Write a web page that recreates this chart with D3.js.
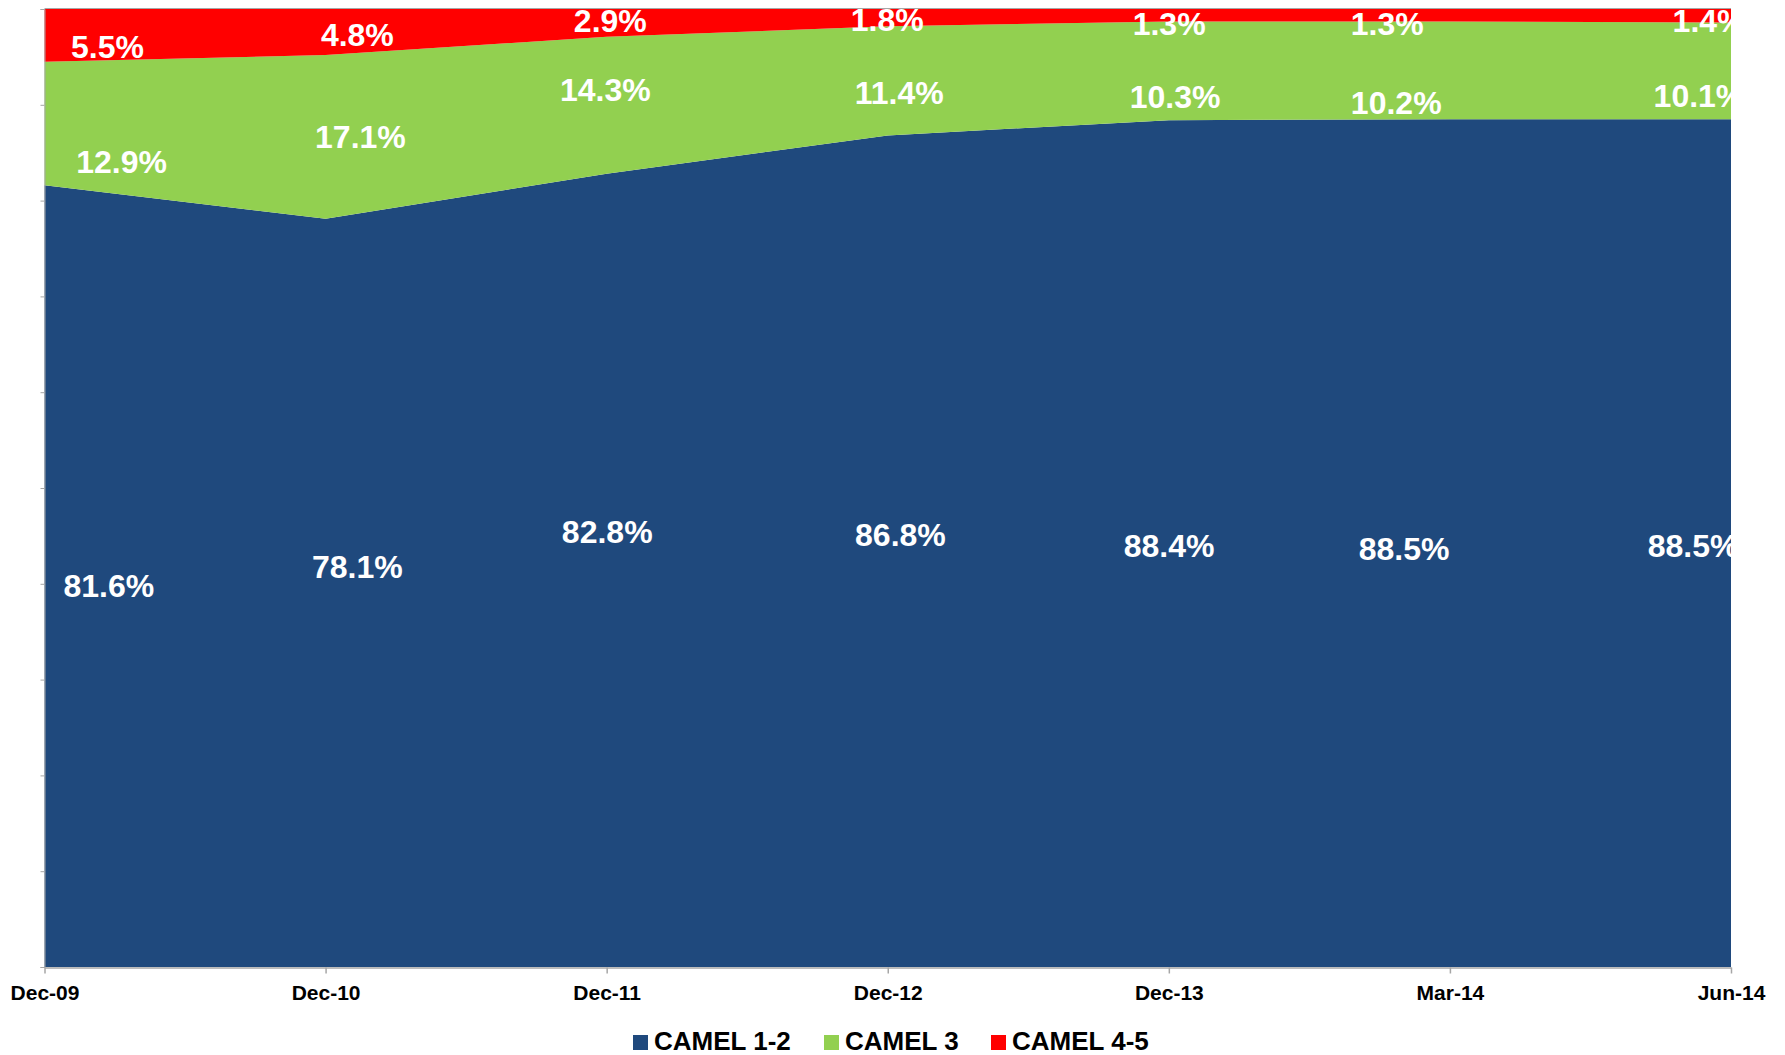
<!DOCTYPE html>
<html>
<head>
<meta charset="utf-8">
<script src="https://cdn.jsdelivr.net/npm/d3@7"></script>
<style>
  html, body { margin: 0; padding: 0; background: #ffffff; }
  svg { display: block; }
  text { font-family: Arial, "Liberation Sans", sans-serif; font-weight: bold; }
</style>
</head>
<body>
<svg id="chart" width="1785" height="1055"></svg>
<script>
// ---- data ----
const categories = ["Dec-09", "Dec-10", "Dec-11", "Dec-12", "Dec-13", "Mar-14", "Jun-14"];
const seriesNames = ["CAMEL 1-2", "CAMEL 3", "CAMEL 4-5"];
const camel12 = [81.6, 78.1, 82.8, 86.8, 88.4, 88.5, 88.5];
const camel3  = [12.9, 17.1, 14.3, 11.4, 10.3, 10.2, 10.1];
const camel45 = [5.5, 4.8, 2.9, 1.8, 1.3, 1.3, 1.4];
const yTicks = [0, 10, 20, 30, 40, 50, 60, 70, 80, 90, 100];

// label anchor positions in data units (category index, percent)
const labelX12 = [0.229, 1.113, 2.002, 3.045, 4.001, 4.837, 5.865];
const labelY12 = [39.8, 41.8, 45.5, 45.1, 44.0, 43.7, 44.0];
const labelX3  = [0.274, 1.124, 1.995, 3.041, 4.022, 4.809, 5.886];
const labelY3  = [84.1, 86.7, 91.6, 91.3, 90.9, 90.2, 91.0];
const labelX45 = [0.224, 1.113, 2.013, 2.998, 4.001, 4.777, 5.922];
const labelY45 = [96.1, 97.3, 98.75, 98.95, 98.5, 98.5, 98.75];

// ---- layout / style ----
const colors = ["#1F497D", "#92D050", "#FF0000"];
const plot = { left: 44.5, right: 1731, top: 9, bottom: 967 };

const svg = d3.select("#chart");
const x = d3.scaleLinear().domain([0, categories.length - 1]).range([plot.left, plot.right]);
const y = d3.scaleLinear().domain([0, 100]).range([plot.bottom, plot.top]);

const rows = categories.map((c, i) => ({ i, s0: camel12[i], s1: camel3[i], s2: camel45[i] }));
const stack = d3.stack().keys(["s0", "s1", "s2"]);
const stacked = stack(rows);

const area = d3.area()
  .x(d => x(d.data.i))
  .y0(d => y(d[0]))
  .y1(d => y(d[1]))
  .curve(d3.curveLinear);

svg.append("defs").append("clipPath").attr("id", "plotClip")
  .append("rect")
  .attr("x", plot.left).attr("y", plot.top)
  .attr("width", plot.right - plot.left).attr("height", plot.bottom - plot.top);

svg.append("g").selectAll("path")
  .data(stacked)
  .join("path")
  .attr("d", area)
  .attr("fill", (d, i) => colors[i]);

// plot top border
svg.append("line")
  .attr("x1", plot.left).attr("x2", plot.right)
  .attr("y1", plot.top - 0.5).attr("y2", plot.top - 0.5)
  .attr("stroke", "#a6a6a6").attr("stroke-width", 1);

// y axis (line + small ticks, no labels)
const yAxis = d3.axisLeft(y).tickValues(yTicks).tickSize(4).tickFormat("");
const gy = svg.append("g").attr("transform", `translate(${plot.left},0)`).call(yAxis);
gy.selectAll("path, line").attr("stroke", "#a6a6a6");

// x axis
const xAxis = d3.axisBottom(x).tickValues(d3.range(categories.length))
  .tickSize(6).tickSizeOuter(0).tickPadding(12)
  .tickFormat(i => categories[i]);
const gx = svg.append("g").attr("transform", `translate(0,${plot.bottom + 0.5})`).call(xAxis);
gx.select(".domain").attr("stroke", "#a6a6a6").attr("stroke-width", 1.5);
gx.selectAll(".tick line").attr("stroke", "#a6a6a6").attr("stroke-width", 1.5);
gx.selectAll(".tick text")
  .attr("fill", "#000")
  .style("font-size", "21px")
  .style("font-weight", "bold")
  .style("font-family", "Arial, 'Liberation Sans', sans-serif");

// data labels
const labelSets = [
  { vals: camel12, lx: labelX12, ly: labelY12 },
  { vals: camel3,  lx: labelX3,  ly: labelY3 },
  { vals: camel45, lx: labelX45, ly: labelY45 }
];
const lg = svg.append("g").attr("clip-path", "url(#plotClip)");
labelSets.forEach(set => {
  lg.selectAll(null)
    .data(set.vals)
    .join("text")
    .attr("x", (d, i) => x(set.lx[i]))
    .attr("y", (d, i) => y(set.ly[i]))
    .attr("dy", "0.36em")
    .attr("text-anchor", "middle")
    .attr("fill", "#ffffff")
    .style("font-size", "32px")
    .text(d => d.toFixed(1) + "%");
});

// legend
const legendItems = [
  { name: seriesNames[0], color: colors[0], x: 633 },
  { name: seriesNames[1], color: colors[1], x: 824 },
  { name: seriesNames[2], color: colors[2], x: 991 }
];
const leg = svg.append("g");
legendItems.forEach(it => {
  leg.append("rect")
    .attr("x", it.x).attr("y", 1035)
    .attr("width", 15).attr("height", 15)
    .attr("fill", it.color);
  leg.append("text")
    .attr("x", it.x + 21).attr("y", 1050)
    .attr("fill", "#000")
    .style("font-size", "26px")
    .text(it.name);
});
</script>
</body>
</html>
